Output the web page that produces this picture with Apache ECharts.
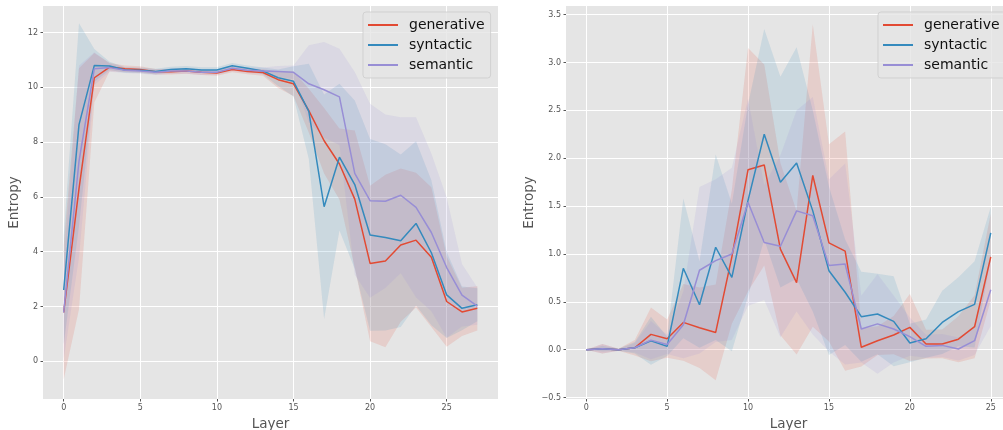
<!DOCTYPE html>
<html>
<head>
<meta charset="utf-8">
<script src="https://cdn.jsdelivr.net/npm/echarts@6/dist/echarts.min.js"></script>
<style>
html,body{margin:0;padding:0;background:#fff;}
#chart{width:1003px;height:430px;}
</style>
</head>
<body>
<div id="chart"></div>
<script>
// ---------- DATA ----------
const layersL = [0,1,2,3,4,5,6,7,8,9,10,11,12,13,14,15,16,17,18,19,20,21,22,23,24,25,26,27];
const genL    = [1.78,6.3,10.35,10.74,10.68,10.65,10.57,10.57,10.6,10.55,10.52,10.65,10.58,10.54,10.28,10.13,9.15,8.05,7.2,5.92,3.57,3.66,4.24,4.42,3.8,2.18,1.8,1.93];
const genLstd = [2.45,4.4,0.9,0.15,0.12,0.12,0.1,0.1,0.1,0.1,0.1,0.1,0.1,0.12,0.3,0.45,0.8,1.2,1.3,2.5,2.84,3.15,2.8,2.46,2.55,1.65,0.88,0.81];
const synL    = [2.6,8.64,10.8,10.78,10.63,10.62,10.58,10.65,10.68,10.63,10.63,10.79,10.7,10.6,10.35,10.22,9.12,5.64,7.45,6.45,4.61,4.52,4.4,5.03,3.96,2.42,1.93,2.06];
const synLstd = [2.0,3.7,0.6,0.15,0.1,0.1,0.1,0.1,0.1,0.1,0.1,0.1,0.1,0.12,0.3,0.55,1.74,4.1,2.68,3.07,3.5,3.4,3.15,3.0,2.65,1.57,0.8,0.6];
const semL    = [1.78,7.3,10.68,10.72,10.62,10.6,10.55,10.6,10.6,10.55,10.55,10.7,10.62,10.6,10.58,10.55,10.13,9.91,9.65,6.86,5.86,5.84,6.06,5.62,4.7,3.42,2.41,2.01];
const semLstd = [1.7,3.5,0.6,0.15,0.1,0.1,0.1,0.1,0.1,0.1,0.1,0.1,0.1,0.12,0.2,0.25,1.41,1.75,1.76,3.7,3.54,3.17,2.85,3.29,2.88,2.56,1.14,0.68];

const layersR = [0,1,2,3,4,5,6,7,8,9,10,11,12,13,14,15,16,17,18,19,20,21,22,23,24,25];
const genR    = [0,0.01,0,0.02,0.16,0.115,0.285,0.23,0.18,0.97,1.88,1.93,1.05,0.70,1.82,1.115,1.03,0.025,0.094,0.153,0.233,0.059,0.06,0.11,0.24,0.97];
const genRstd = [0,0.05,0.01,0.08,0.28,0.2,0.4,0.42,0.5,0.7,1.27,1.05,0.9,0.75,1.58,1.03,1.25,0.2,0.15,0.2,0.35,0.15,0.15,0.24,0.33,0.45];
const synR    = [0,0.01,0,0.02,0.094,0.035,0.85,0.47,1.07,0.755,1.56,2.25,1.75,1.95,1.45,0.825,0.6,0.345,0.373,0.296,0.07,0.115,0.285,0.397,0.473,1.22];
const synRstd = [0,0.03,0.01,0.06,0.25,0.1,0.73,0.45,0.97,0.77,1.0,1.1,1.1,1.21,1.05,0.88,0.55,0.47,0.42,0.47,0.2,0.2,0.33,0.36,0.45,0.27];
const semR    = [0,0.01,0,0.02,0.1,0.055,0.26,0.83,0.93,1.0,1.54,1.12,1.08,1.45,1.4,0.88,0.895,0.216,0.27,0.216,0.136,0.035,0.045,0.007,0.094,0.627];
const semRstd = [0,0.05,0.01,0.05,0.2,0.1,0.35,0.87,0.85,0.9,1.08,0.6,0.95,1.05,1.24,0.9,1.05,0.35,0.52,0.35,0.2,0.12,0.12,0.12,0.15,0.38];

const seriesNames = ['generative','syntactic','semantic'];
const xTicksL = [0,5,10,15,20,25];
const yTicksL = [0,2,4,6,8,10,12];
const xTicksR = [0,5,10,15,20,25];
const yTicksR = [-0.5,0,0.5,1.0,1.5,2.0,2.5,3.0,3.5];

// ---------- STYLE ----------
const COLORS = ['#E24A33','#348ABD','#988ED5'];
const FONT = 'DejaVu Sans';
const BG = '#E5E5E5';

function pairs(xs, ys){ return xs.map((x,i)=>[x, ys[i]]); }

// mean ± std band drawn as one polygon through the axis scales
function bandSeries(xs, mean, std, color, idx){
  const rows = xs.map((x,i)=>[x, mean[i]-std[i], mean[i]+std[i]]);
  return {
    type:'custom', xAxisIndex:idx, yAxisIndex:idx, silent:true, z:1, animation:false,
    data: rows,
    encode:{x:0, y:[1,2]},
    renderItem: function(params, api){
      if (params.dataIndex !== 0) return null;
      const up = rows.map(r=>api.coord([r[0], r[2]]));
      const lo = rows.map(r=>api.coord([r[0], r[1]])).reverse();
      return {type:'polygon', shape:{points: up.concat(lo)},
        style:{fill: color, opacity:0.15}};
    }
  };
}
function lineSeries(xs, ys, name, color, idx){
  return {type:'line', name:name, xAxisIndex:idx, yAxisIndex:idx, data:pairs(xs, ys),
    symbol:'none', color:color, lineStyle:{color:color, width:1.5}, z:3, animation:false};
}

function xAxis(idx, min, max, ticks){
  return {type:'value', gridIndex:idx, min:min, max:max, name:'Layer', nameLocation:'middle', nameGap:18,
    nameTextStyle:{fontFamily:FONT, fontSize:13.5, color:'#555'},
    axisLine:{show:false, onZero:false},
    axisTick:{show:true, length:2.5, customValues:ticks, lineStyle:{color:'#555'}},
    axisLabel:{customValues:ticks, fontFamily:FONT, fontSize:8, color:'#555', margin:5},
    splitLine:{show:true, customValues:ticks, lineStyle:{color:'#fff', width:1}}};
}
function yAxis(idx, min, max, ticks, gap, fmt){
  return {type:'value', gridIndex:idx, min:min, max:max, name:'Entropy', nameLocation:'middle', nameGap:gap,
    nameTextStyle:{fontFamily:FONT, fontSize:13.5, color:'#555'},
    axisLine:{show:false, onZero:false},
    axisTick:{show:true, length:2.5, customValues:ticks, lineStyle:{color:'#555'}},
    axisLabel:{customValues:ticks, fontFamily:FONT, fontSize:8, color:'#555', margin:5, formatter:fmt},
    splitLine:{show:true, customValues:ticks, lineStyle:{color:'#fff', width:1}}};
}
function legend(left){
  return {data:seriesNames, orient:'vertical', left:left, top:12, icon:'rect', itemWidth:30, itemHeight:2,
    itemGap:4, padding:[5,6,5,5], backgroundColor:'rgba(229,229,229,0.8)', borderColor:'rgba(204,204,204,0.8)',
    borderWidth:1, borderRadius:3,
    textStyle:{fontFamily:FONT, fontSize:14, color:'#111', lineHeight:16, padding:[0,0,0,6]}, selectedMode:false};
}

const series = [];
series.push(bandSeries(layersL, genL, genLstd, COLORS[0], 0));
series.push(bandSeries(layersL, synL, synLstd, COLORS[1], 0));
series.push(bandSeries(layersL, semL, semLstd, COLORS[2], 0));
series.push(bandSeries(layersR, genR, genRstd, COLORS[0], 1));
series.push(bandSeries(layersR, synR, synRstd, COLORS[1], 1));
series.push(bandSeries(layersR, semR, semRstd, COLORS[2], 1));
series.push(lineSeries(layersL, genL, seriesNames[0], COLORS[0], 0));
series.push(lineSeries(layersL, synL, seriesNames[1], COLORS[1], 0));
series.push(lineSeries(layersL, semL, seriesNames[2], COLORS[2], 0));
series.push(lineSeries(layersR, genR, seriesNames[0], COLORS[0], 1));
series.push(lineSeries(layersR, synR, seriesNames[1], COLORS[1], 1));
series.push(lineSeries(layersR, semR, seriesNames[2], COLORS[2], 1));

const chart = echarts.init(document.getElementById('chart'), null, {renderer:'canvas'});
chart.setOption({
  backgroundColor:'#fff',
  animation:false,
  grid:[
    {left:43, right:505, top:6, bottom:31, backgroundColor:BG, show:true, borderWidth:0, outerBoundsMode:'none', containLabel:false},
    {left:566, right:-8, top:6, bottom:31, backgroundColor:BG, show:true, borderWidth:0, outerBoundsMode:'none', containLabel:false}
  ],
  xAxis:[ xAxis(0, -1.35, 28.35, xTicksL), xAxis(1, -1.25, 26.25, xTicksR) ],
  yAxis:[ yAxis(0, -1.38, 12.97, yTicksL, 22, v=>String(v)),
          yAxis(1, -0.515, 3.59, yTicksR, 30, v=>(v<0?'\u2212':'')+Math.abs(v).toFixed(1)) ],
  legend:[ legend(363), legend(878) ],
  series:series
});
</script>
</body>
</html>
